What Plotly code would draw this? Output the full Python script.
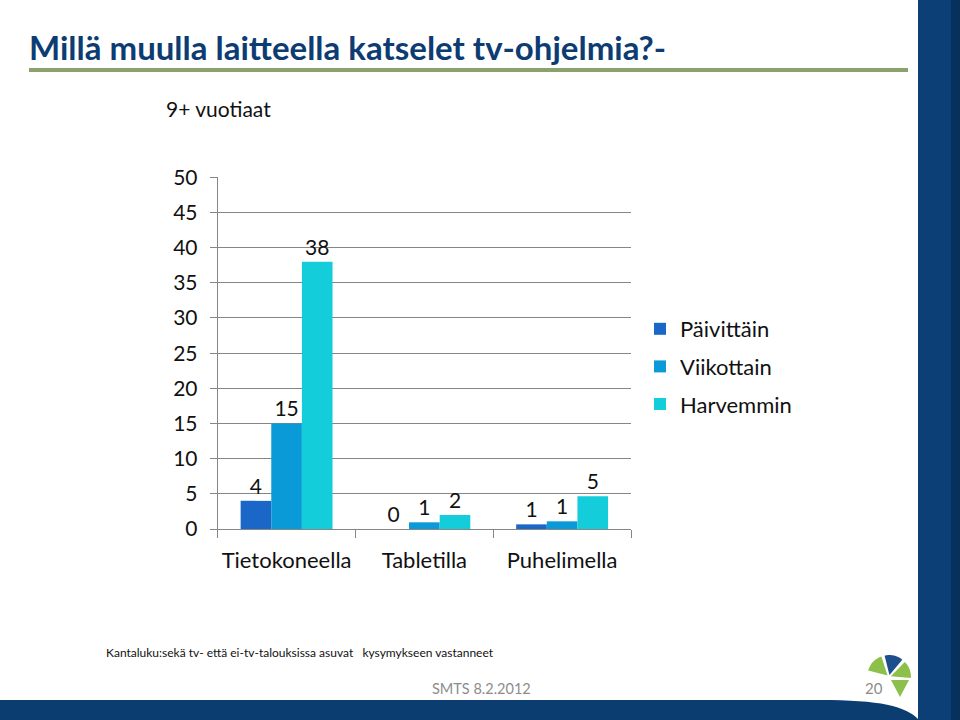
import math
import plotly.graph_objects as go

categories = ["Tietokoneella", "Tabletilla", "Puhelimella"]
series_names = ["Päivittäin", "Viikottain", "Harvemmin"]
paivittain = [4.0, 0.0, 0.66]
viikottain = [15.0, 0.95, 1.09]
harvemmin = [38.0, 1.99, 4.65]
y_ticks = [0, 5, 10, 15, 20, 25, 30, 35, 40, 45, 50]
colors = ["#1B67C7", "#0A9AD7", "#14CDDB"]

W, H = 960, 720
FONT = "Lato"
TXT = 21


def px(x):
    return x / W


def py(y):
    return 1 - y / H


fig = go.Figure()
for i, (name, vals) in enumerate(zip(series_names, [paivittain, viikottain, harvemmin])):
    fig.add_trace(go.Bar(
        name=name, x=categories, y=vals,
        marker=dict(color=colors[i], line=dict(width=0)),
        texttemplate="%{y:.0f}", textposition="outside",
        textfont=dict(family=FONT, size=TXT, color="#111111"),
        cliponaxis=False, legendgroup=name,
    ))

shapes = []
# right band
shapes.append(dict(type="rect", xref="paper", yref="paper", x0=px(918), x1=px(960), y0=0, y1=1,
                   fillcolor="#0B3F76", line=dict(width=0), layer="below"))
shapes.append(dict(type="rect", xref="paper", yref="paper", x0=px(951), x1=px(960), y0=0, y1=1,
                   fillcolor="#07305C", line=dict(width=0), layer="below"))
# bottom band with curved corner
pts = (f"M {px(0)},{py(700)} L {px(820)},{py(700)} C {px(880)},{py(700)} {px(906)},{py(706)} "
       f"{px(919)},{py(720)} L {px(0)},{py(720)} Z")
shapes.append(dict(type="path", xref="paper", yref="paper", path=pts,
                   fillcolor="#0B3D71", line=dict(width=0), layer="below"))
# green title line
shapes.append(dict(type="line", xref="paper", yref="paper", x0=px(29), x1=px(908), y0=py(70), y1=py(70),
                   line=dict(color="#8BA26E", width=4), layer="below"))

# logo wedges
cx, cy, r = 889, 677, 20


def wedge(a0, a1, color, rr=r, gap=2.0):
    ox = cx + gap * math.cos(math.radians((a0 + a1) / 2))
    oy = cy - gap * math.sin(math.radians((a0 + a1) / 2))
    path = f"M {px(ox)},{py(oy)}"
    n = 10
    for k in range(n + 1):
        a = math.radians(a0 + (a1 - a0) * k / n)
        path += f" L {px(ox + rr * math.cos(a))},{py(oy - rr * math.sin(a))}"
    path += " Z"
    return dict(type="path", xref="paper", yref="paper", path=path, fillcolor=color, line=dict(width=0))


shapes.append(wedge(108, 165, "#8DC04A"))
shapes.append(wedge(50, 104, "#1D4F8C"))
shapes.append(wedge(-5, 46, "#8DC04A"))
tri = f"M {px(891)},{py(680)} L {px(909)},{py(680)} L {px(900)},{py(697)} Z"
shapes.append(dict(type="path", xref="paper", yref="paper", path=tri, fillcolor="#8DC04A", line=dict(width=0)))

annotations = [
    dict(text="Millä muulla laitteella katselet tv-ohjelmia?-", x=px(27), y=py(47), xref="paper", yref="paper",
         xanchor="left", yanchor="middle", showarrow=False,
         font=dict(family=FONT, size=33, color="#0D3C73", weight="bold")),
    dict(text="9+ vuotiaat", x=px(164), y=py(108), xref="paper", yref="paper",
         xanchor="left", yanchor="middle", showarrow=False,
         font=dict(family=FONT, size=21, color="#111111")),
    dict(text="Kantaluku:sekä tv- että ei-tv-talouksissa asuvat   kysymykseen vastanneet", x=px(104), y=py(652),
         xref="paper", yref="paper", xanchor="left", yanchor="middle", showarrow=False,
         font=dict(family=FONT, size=12, color="#111111")),
    dict(text="SMTS 8.2.2012", x=px(481), y=py(688), xref="paper", yref="paper",
         xanchor="center", yanchor="middle", showarrow=False,
         font=dict(family=FONT, size=14.5, color="#8C8C8C")),
    dict(text="20", x=px(874), y=py(688), xref="paper", yref="paper",
         xanchor="center", yanchor="middle", showarrow=False,
         font=dict(family=FONT, size=15, color="#8C8C8C")),
]

fig.update_layout(
    width=W, height=H,
    margin=dict(l=0, r=0, t=0, b=0, pad=0, autoexpand=False),
    paper_bgcolor="white", plot_bgcolor="white",
    barmode="group", bargap=0.333, bargroupgap=0,
    font=dict(family=FONT, size=TXT, color="#111111"),
    shapes=shapes, annotations=annotations,
    showlegend=True,
    legend=dict(x=px(640), y=py(308), xanchor="left", yanchor="top",
                font=dict(family=FONT, size=22, color="#111111"),
                tracegroupgap=6, bgcolor="rgba(0,0,0,0)"),
    xaxis=dict(domain=[px(217.7), px(631)], type="category", automargin=False,
               showline=True, linecolor="#868686", linewidth=1,
               ticks="outside", tickson="boundaries", ticklen=8, tickcolor="#868686",
               showgrid=False, ticklabelstandoff=12, tickangle=0,
               tickfont=dict(family=FONT, size=22, color="#111111")),
    yaxis=dict(domain=[py(529), py(177.3)], range=[0, 50], tickvals=y_ticks, automargin=False,
               showline=True, linecolor="#868686", linewidth=1,
               ticks="outside", ticklen=7, tickcolor="#868686",
               showgrid=True, gridcolor="#868686", gridwidth=1, zeroline=False,
               ticklabelstandoff=8,
               tickfont=dict(family=FONT, size=TXT, color="#111111")),
)

fig.write_html("out.html")
